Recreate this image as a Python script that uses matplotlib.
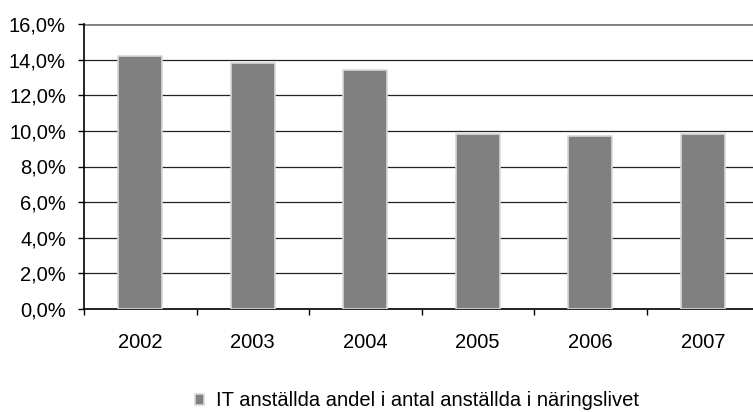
#!/usr/bin/env python3

import numpy as np
from matplotlib import pyplot as plt
from matplotlib.ticker import FuncFormatter

years = ['2002', '2003', '2004', '2005', '2006', '2007']
it_share = [14.2, 13.8, 13.4, 9.8, 9.7, 9.8]
series_label = 'IT anställda andel i antal anställda i näringslivet'


def pct(v, pos):
    return f'{v:.1f}%'.replace('.', ',')


def main():
    plt.rcParams['font.family'] = ['Liberation Sans', 'DejaVu Sans']
    fig = plt.figure(figsize=(7.53, 4.12), dpi=100)
    # axes box in pixels: left 84, right 759, top 24, bottom 309
    ax = fig.add_axes([84 / 753, 1 - 309 / 412, 675 / 753, 285 / 412])

    x = np.arange(len(years))
    ax.bar(x, it_share, width=0.39, color='#808080', edgecolor='#d8d8d8',
           linewidth=1.2, zorder=3, label=series_label)

    ax.set_xlim(-0.5, len(years) - 0.5)
    ax.set_ylim(0, 16)
    ax.set_yticks(np.arange(0, 16.1, 2))
    ax.yaxis.set_major_formatter(FuncFormatter(pct))
    ax.set_xticks(x)
    ax.set_xticklabels(years)
    ax.set_xticks(np.arange(-0.5, len(years), 1), minor=True)
    ax.tick_params(axis='x', which='major', length=0, pad=17, labelsize=14.5)
    ax.tick_params(axis='x', which='minor', length=4.5, width=1,
                   direction='out')
    ax.tick_params(axis='y', length=4, width=1, labelsize=14.5, pad=9)

    ax.yaxis.grid(True, color='#222222', linewidth=0.9, zorder=0)
    ax.set_axisbelow(True)
    gl = ax.get_ygridlines()
    gl[-1].set_color('#808080')
    gl[-1].set_linewidth(2)
    for side in ['top', 'right']:
        ax.spines[side].set_visible(False)
    ax.spines['left'].set_linewidth(1.2)
    ax.spines['bottom'].set_linewidth(1.2)

    fig.legend(loc='center', bbox_to_anchor=(417 / 753, 1 - 401 / 412),
               frameon=False, fontsize=14.5, handlelength=0.45,
               handleheight=0.45, handletextpad=0.6)

    fig.savefig('out.png', dpi=100)


if __name__ == '__main__':
    main()
